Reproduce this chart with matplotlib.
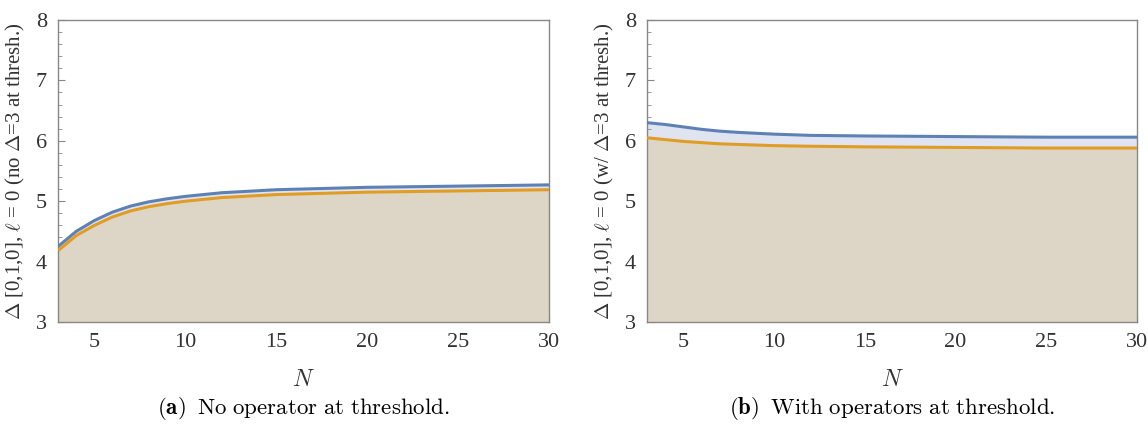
import matplotlib.pyplot as plt
from matplotlib.ticker import MultipleLocator

plt.rcParams['mathtext.fontset'] = 'cm'
plt.rcParams['font.family'] = 'Liberation Serif'

# panel (a): no operator at threshold
n_a = [3, 4, 5, 6, 7, 8, 9, 10, 12, 15, 20, 25, 30]
blue_a = [4.25, 4.50, 4.68, 4.82, 4.92, 4.99, 5.04, 5.08, 5.14, 5.19, 5.23, 5.25, 5.27]
orange_a = [4.18, 4.43, 4.60, 4.74, 4.84, 4.91, 4.96, 5.00, 5.06, 5.11, 5.15, 5.17, 5.19]

# panel (b): with operators at threshold
n_b = [3, 4, 5, 6, 7, 8, 10, 12, 15, 20, 25, 30]
blue_b = [6.30, 6.27, 6.23, 6.19, 6.16, 6.14, 6.11, 6.09, 6.08, 6.07, 6.06, 6.06]
orange_b = [6.05, 6.02, 5.99, 5.97, 5.95, 5.94, 5.92, 5.91, 5.90, 5.89, 5.88, 5.88]

ylabels = [r'$\Delta$ [0,1,0], $\ell$ = 0 (no $\Delta$=3 at thresh.)',
           r'$\Delta$ [0,1,0], $\ell$ = 0 (w/ $\Delta$=3 at thresh.)']
captions = [r'$\mathbf{(a)}\;\; \mathrm{No\ operator\ at\ threshold.}$',
            r'$\mathbf{(b)}\;\; \mathrm{With\ operators\ at\ threshold.}$']

blue = '#5e81b5'
orange = '#e19c24'

fig = plt.figure(figsize=(11.48, 4.30), dpi=100)
positions = [[58/1148, 1 - 322/430, 491/1148, 302/430],
             [647/1148, 1 - 322/430, 490/1148, 302/430]]

for i, (x, yb, yo) in enumerate([(n_a, blue_a, orange_a), (n_b, blue_b, orange_b)]):
    ax = fig.add_axes(positions[i])
    ax.fill_between(x, 3, yb, color='#e0e4f0', lw=0, zorder=1)
    ax.fill_between(x, 3, yo, color='#ddd6c6', lw=0, zorder=2)
    ax.plot(x, yb, color=blue, lw=2.2, zorder=3, solid_capstyle='butt')
    ax.plot(x, yo, color=orange, lw=2.2, zorder=3, solid_capstyle='butt')
    ax.set_xlim(3, 30)
    ax.set_ylim(3, 8)
    ax.xaxis.set_major_locator(MultipleLocator(5))
    ax.xaxis.set_minor_locator(MultipleLocator(1))
    ax.yaxis.set_major_locator(MultipleLocator(1))
    ax.yaxis.set_minor_locator(MultipleLocator(0.2))
    ax.tick_params(which='both', direction='in', top=False, right=False,
                   color='#888888', labelcolor='#333333', labelsize=16)
    ax.tick_params(which='major', length=5, width=0.8, pad=8)
    ax.tick_params(which='minor', length=3, width=0.6)
    for s in ax.spines.values():
        s.set_color('#888888')
        s.set_linewidth(1.0)
    ax.set_xlabel(r'$N$', fontsize=17, color='#333333', labelpad=13)
    ax.set_ylabel(ylabels[i], fontsize=15, color='#333333', labelpad=6)
    cx = positions[i][0] + positions[i][2] / 2
    fig.text(cx, 0.05, captions[i], ha='center', va='center', fontsize=16.5)

fig.savefig('out.png', dpi=100)
